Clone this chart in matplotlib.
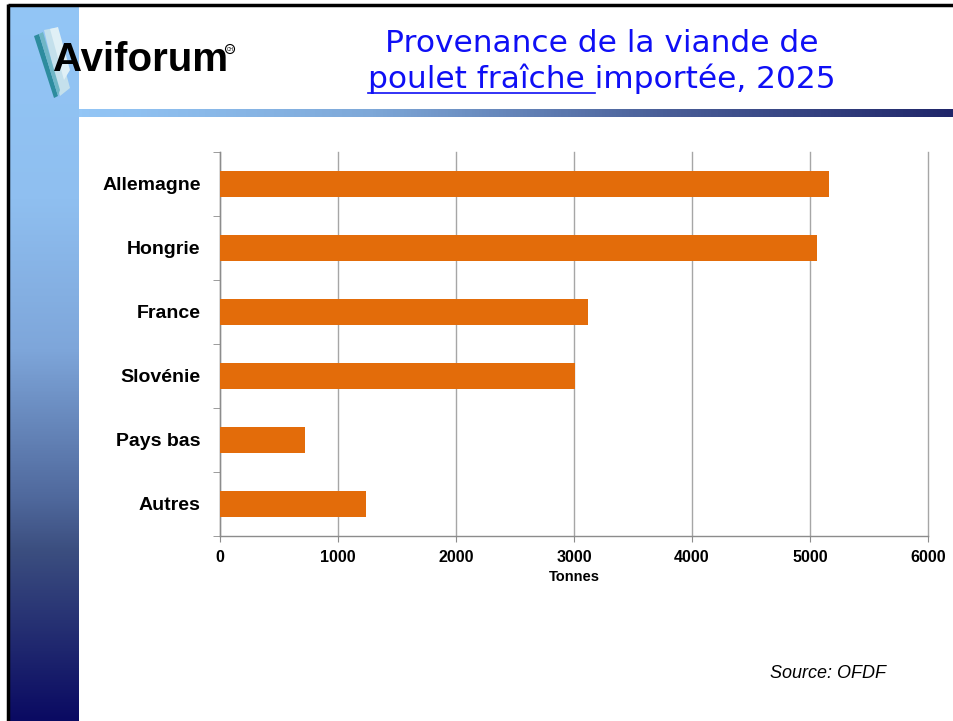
import matplotlib
matplotlib.use("Agg")
import matplotlib.pyplot as plt
import numpy as np
from matplotlib.colors import LinearSegmentedColormap
from matplotlib.patches import Polygon, Circle, Rectangle
from matplotlib import font_manager

categories = ["Allemagne", "Hongrie", "France", "Slovénie", "Pays bas", "Autres"]
values = [5160, 5060, 3120, 3010, 720, 1240]
xticks = [0, 1000, 2000, 3000, 4000, 5000, 6000]

W, H = 954, 721
fig = plt.figure(figsize=(W / 100, H / 100), dpi=100)
fig.patch.set_facecolor("white")

names = {f.name for f in font_manager.fontManager.ttflist}
narrow = "Liberation Sans Narrow" in names

# ---- background decoration in pixel coordinates
bg = fig.add_axes([0, 0, 1, 1])
bg.set_xlim(0, W)
bg.set_ylim(H, 0)
bg.axis("off")

vcmap = LinearSegmentedColormap.from_list(
    "v", [(0, "#93c6f6"), (0.27, "#8fbff0"), (0.48, "#7ea6da"), (0.69, "#4f689c"),
          (0.76, "#3c4f80"), (1, "#0a0a62")])
grad_v = np.linspace(0, 1, 256).reshape(-1, 1)
bg.imshow(grad_v, cmap=vcmap, extent=(9, 79, H, 6), aspect="auto", zorder=1)

hcmap = LinearSegmentedColormap.from_list("h", ["#93c6f6", "#7ea8d8", "#4a5f98", "#20266a"])
grad_h = np.linspace(0, 1, 256).reshape(1, -1)
bg.imshow(grad_h, cmap=hcmap, extent=(79, W, 117, 109), aspect="auto", zorder=1)

# white logo area
bg.add_patch(Rectangle((79, 6), W - 79, 103, facecolor="white", edgecolor="none", zorder=1.5))

# black frame
bg.plot([8, W], [5, 5], color="black", lw=2.5, zorder=5, solid_capstyle="butt")
bg.plot([8, 8], [4, H], color="black", lw=2.5, zorder=5, solid_capstyle="butt")

# feather logo
bg.add_patch(Polygon([[44, 30], [54, 28], [70, 88], [60, 96]], closed=True,
                     facecolor="#c4e0ec", edgecolor="none", zorder=2.8))
bg.add_patch(Polygon([[50, 29], [58, 27], [70, 70], [64, 80]], closed=True,
                     facecolor="#e0f0f6", edgecolor="none", zorder=2.9))
bg.add_patch(Polygon([[34, 36], [39, 34], [58, 96], [54, 98]], closed=True,
                     facecolor="#2d8c9e", edgecolor="none", zorder=3))
bg.add_patch(Polygon([[39, 34], [43, 32], [60, 90], [58, 96]], closed=True,
                     facecolor="#6fb6c6", edgecolor="none", zorder=3))
if narrow:
    bg.text(53, 59, "Aviforum", fontsize=34, fontweight="bold", family="Liberation Sans Narrow",
            color="black", ha="left", va="center", zorder=4)
else:
    bg.text(53, 60, "Aviforum", fontsize=29, fontweight="bold", family="Liberation Sans",
            color="black", ha="left", va="center", zorder=4)
bg.add_patch(Circle((230, 49), 4.5, facecolor="none", edgecolor="black", lw=0.8, zorder=4))
bg.text(230, 49.5, "CH", fontsize=3.5, ha="center", va="center", family="Liberation Sans", zorder=4)

# title
tcolor = "#0f0ff5"
tfont = "DejaVu Sans"
tsize = 22.5
bg.text(602, 43, "Provenance de la viande de", fontsize=tsize, color=tcolor, family=tfont,
        ha="center", va="center", zorder=4)
full = "poulet fraîche importée, 2025"
t2 = bg.text(602, 79, full, fontsize=tsize, color=tcolor, family=tfont,
             ha="center", va="center", zorder=4)
fig.canvas.draw()
r = fig.canvas.get_renderer()
bb = t2.get_window_extent(r)
tmp = bg.text(0, 0, "poulet fraîche", fontsize=tsize, family=tfont)
w1 = tmp.get_window_extent(r).width
tmp.set_text("a a"); wa = tmp.get_window_extent(r).width
tmp.set_text("aa"); wb = tmp.get_window_extent(r).width
tmp.remove()
x0 = bb.x0
x1 = bb.x0 + w1 + (wa - wb)
bg.plot([x0, x1], [H - bb.y0 - 1, H - bb.y0 - 1], color=tcolor, lw=1.2, zorder=4)

# source
bg.text(828, 673, "Source: OFDF", fontsize=13, style="italic", family="Liberation Sans",
        ha="center", va="center", zorder=4)

# ---- chart
ax = fig.add_axes([220 / W, 1 - 536 / H, (928 - 220) / W, (536 - 152) / H])
ax.set_zorder(2)
ax.patch.set_alpha(0)
y = np.arange(len(categories))
ax.barh(y, values, height=0.4, color="#e36c0a", zorder=3)
ax.set_ylim(len(categories) - 0.5, -0.5)
ax.set_xlim(0, 6000)
ax.set_xticks(xticks)
ax.set_xticklabels([str(v) for v in xticks], fontsize=11.5, fontweight="bold", family="Liberation Sans")
ax.set_yticks(y)
ax.set_yticklabels(categories, fontsize=14, fontweight="bold", family="Liberation Sans")
ax.set_yticks(np.arange(-0.5, len(categories)), minor=True)
ax.tick_params(axis="y", which="major", length=0, pad=14)
ax.tick_params(axis="y", which="minor", length=5, color="#8c8c8c", direction="out")
ax.tick_params(axis="x", which="major", length=4, color="#8c8c8c", pad=6)
ax.grid(axis="x", color="#a6a6a6", lw=1, zorder=0)
for gl in ax.get_xgridlines():
    gl.set_clip_on(False)
for s in ["top", "right"]:
    ax.spines[s].set_visible(False)
for s in ["left", "bottom"]:
    ax.spines[s].set_color("#8c8c8c")
    ax.spines[s].set_linewidth(1)
ax.set_xlabel("Tonnes", fontsize=10.5, fontweight="bold", family="Liberation Sans", labelpad=4)

fig.savefig("out.png", dpi=100)
